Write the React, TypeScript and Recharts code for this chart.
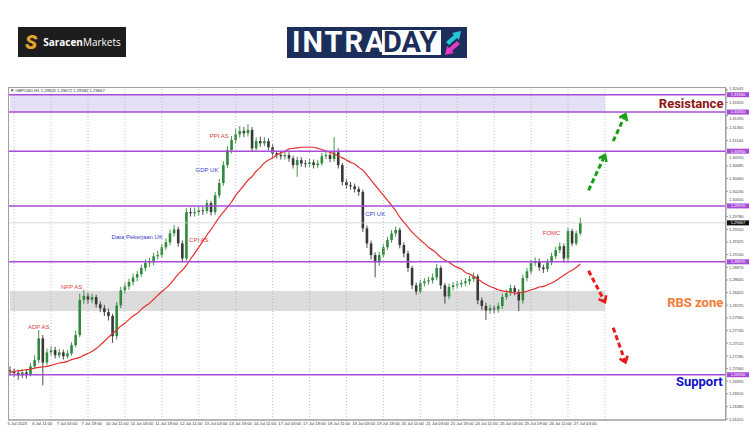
import React from 'react';
import { ComposedChart, Bar, Line, Area, XAxis, YAxis, ReferenceLine, ReferenceDot } from 'recharts';

// ---- GBPUSD candles (aggregated H1), open = previous close ----
const firstOpen = 1.2703;
const closes = [
  1.2701, 1.2698, 1.2694, 1.2699, 1.2696, 1.2710, 1.2721, 1.2760, 1.2717, 1.2735,
  1.2739, 1.2730, 1.2735, 1.2728, 1.2733, 1.2748, 1.2766, 1.2829, 1.2836, 1.2829,
  1.2834, 1.2821, 1.2814, 1.2807, 1.2800, 1.2764, 1.2819, 1.2846, 1.2853, 1.2861,
  1.2869, 1.2875, 1.2886, 1.2895, 1.2896, 1.2907, 1.2909, 1.2923, 1.2932, 1.2948,
  1.2955, 1.2930, 1.2903, 1.2986, 1.2984, 1.2986, 1.2989, 1.2988, 1.3002, 1.2986,
  1.3016, 1.3038, 1.3070, 1.3097, 1.3115, 1.3125, 1.3131, 1.3127, 1.3133, 1.3100,
  1.3113, 1.3109, 1.3113, 1.3102, 1.3091, 1.3088, 1.3086, 1.3088, 1.3082, 1.3070,
  1.3079, 1.3073, 1.3072, 1.3075, 1.3070, 1.3073, 1.3086, 1.3088, 1.3081, 1.3093,
  1.3070, 1.3040, 1.3034, 1.3032, 1.3027, 1.3022, 1.2957, 1.2930, 1.2909, 1.2896,
  1.2909, 1.2923, 1.2936, 1.2948, 1.2954, 1.2927, 1.2912, 1.2886, 1.2855, 1.2844,
  1.2859, 1.2862, 1.2864, 1.2869, 1.2886, 1.2855, 1.2835, 1.2852, 1.2855, 1.2857,
  1.2859, 1.2862, 1.2866, 1.2871, 1.2828, 1.2818, 1.2810, 1.2814, 1.2812, 1.2818,
  1.2834, 1.2841, 1.2850, 1.2843, 1.2828, 1.2868, 1.2880, 1.2895, 1.2898, 1.2887,
  1.2884, 1.2896, 1.2907, 1.2918, 1.2925, 1.2903, 1.2952, 1.2930, 1.2948, 1.2967,
];
const highs = [
  1.2710, 1.2706, 1.2704, 1.2705, 1.2704, 1.2716, 1.2730, 1.2775, 1.2766, 1.2742,
  1.2746, 1.2745, 1.2741, 1.2740, 1.2739, 1.2753, 1.2774, 1.2840, 1.2847, 1.2842,
  1.2840, 1.2838, 1.2826, 1.2820, 1.2813, 1.2804, 1.2825, 1.2852, 1.2860, 1.2867,
  1.2876, 1.2881, 1.2892, 1.2901, 1.2904, 1.2913, 1.2917, 1.2929, 1.2939, 1.2955,
  1.2963, 1.2960, 1.2935, 1.2993, 1.2994, 1.2994, 1.2996, 1.2995, 1.3008, 1.3006,
  1.3022, 1.3045, 1.3077, 1.3104, 1.3122, 1.3135, 1.3140, 1.3138, 1.3143, 1.3138,
  1.3120, 1.3121, 1.3120, 1.3118, 1.3107, 1.3096, 1.3094, 1.3095, 1.3093, 1.3087,
  1.3085, 1.3084, 1.3079, 1.3081, 1.3080, 1.3079, 1.3092, 1.3095, 1.3093, 1.3120,
  1.3100, 1.3074, 1.3046, 1.3040, 1.3037, 1.3032, 1.3026, 1.2962, 1.2935, 1.2914,
  1.2915, 1.2929, 1.2942, 1.2954, 1.2960, 1.2958, 1.2932, 1.2917, 1.2890, 1.2860,
  1.2865, 1.2868, 1.2870, 1.2876, 1.2893, 1.2890, 1.2859, 1.2858, 1.2861, 1.2863,
  1.2865, 1.2868, 1.2872, 1.2878, 1.2875, 1.2833, 1.2824, 1.2820, 1.2819, 1.2824,
  1.2840, 1.2847, 1.2856, 1.2855, 1.2848, 1.2874, 1.2886, 1.2901, 1.2905, 1.2903,
  1.2892, 1.2902, 1.2913, 1.2924, 1.2932, 1.2930, 1.2958, 1.2956, 1.2953, 1.2976,
];
const lows = [
  1.2694, 1.2691, 1.2686, 1.2689, 1.2688, 1.2692, 1.2705, 1.2716, 1.2676, 1.2712,
  1.2729, 1.2724, 1.2725, 1.2722, 1.2724, 1.2729, 1.2744, 1.2762, 1.2822, 1.2822,
  1.2823, 1.2815, 1.2807, 1.2800, 1.2792, 1.2752, 1.2758, 1.2814, 1.2840, 1.2847,
  1.2855, 1.2862, 1.2870, 1.2880, 1.2888, 1.2891, 1.2901, 1.2904, 1.2918, 1.2927,
  1.2942, 1.2924, 1.2896, 1.2899, 1.2978, 1.2978, 1.2980, 1.2981, 1.2983, 1.2980,
  1.2981, 1.3011, 1.3033, 1.3065, 1.3091, 1.3109, 1.3119, 1.3120, 1.3121, 1.3094,
  1.3096, 1.3103, 1.3104, 1.3097, 1.3085, 1.3082, 1.3080, 1.3080, 1.3076, 1.3064,
  1.3049, 1.3067, 1.3066, 1.3067, 1.3064, 1.3065, 1.3069, 1.3081, 1.3075, 1.3076,
  1.3064, 1.3034, 1.3028, 1.3026, 1.3021, 1.3015, 1.2950, 1.2922, 1.2901, 1.2869,
  1.2890, 1.2904, 1.2918, 1.2931, 1.2942, 1.2921, 1.2905, 1.2879, 1.2848, 1.2838,
  1.2840, 1.2853, 1.2856, 1.2858, 1.2864, 1.2848, 1.2822, 1.2830, 1.2846, 1.2849,
  1.2851, 1.2853, 1.2856, 1.2861, 1.2821, 1.2811, 1.2793, 1.2804, 1.2805, 1.2806,
  1.2813, 1.2829, 1.2836, 1.2837, 1.2809, 1.2822, 1.2862, 1.2875, 1.2889, 1.2881,
  1.2877, 1.2879, 1.2891, 1.2902, 1.2913, 1.2896, 1.2898, 1.2925, 1.2926, 1.2944,
];
const movingAvg = [
  1.2699, 1.2701, 1.2702, 1.2703, 1.2704, 1.2705, 1.2707, 1.2708, 1.2709, 1.2710,
  1.2712, 1.2714, 1.2716, 1.2717, 1.2719, 1.2722, 1.2724, 1.2726, 1.2730, 1.2733,
  1.2737, 1.2742, 1.2748, 1.2755, 1.2762, 1.2769, 1.2775, 1.2782, 1.2787, 1.2794,
  1.2800, 1.2805, 1.2812, 1.2818, 1.2823, 1.2830, 1.2837, 1.2844, 1.2850, 1.2857,
  1.2866, 1.2875, 1.2882, 1.2891, 1.2902, 1.2912, 1.2923, 1.2934, 1.2945, 1.2955,
  1.2966, 1.2977, 1.2986, 1.2995, 1.3004, 1.3016, 1.3025, 1.3034, 1.3043, 1.3050,
  1.3059, 1.3066, 1.3074, 1.3079, 1.3083, 1.3088, 1.3092, 1.3095, 1.3099, 1.3100,
  1.3101, 1.3102, 1.3102, 1.3102, 1.3102, 1.3100, 1.3098, 1.3095, 1.3093, 1.3090,
  1.3086, 1.3083, 1.3079, 1.3075, 1.3072, 1.3066, 1.3061, 1.3052, 1.3043, 1.3034,
  1.3025, 1.3016, 1.3007, 1.2998, 1.2988, 1.2977, 1.2968, 1.2959, 1.2950, 1.2943,
  1.2936, 1.2930, 1.2923, 1.2918, 1.2912, 1.2905, 1.2900, 1.2896, 1.2891, 1.2887,
  1.2884, 1.2878, 1.2875, 1.2871, 1.2866, 1.2861, 1.2857, 1.2853, 1.2850, 1.2847,
  1.2845, 1.2844, 1.2843, 1.2841, 1.2841, 1.2843, 1.2844, 1.2847, 1.2849, 1.2852,
  1.2853, 1.2856, 1.2859, 1.2863, 1.2868, 1.2873, 1.2878, 1.2882, 1.2887, 1.2893,
];
const emptySlots = 35; // chart shift to the right

// ---- axes ----
const timeLabels = [
  '5 Jul 2023', '6 Jul 11:00', '7 Jul 03:00', '7 Jul 19:00', '10 Jul 11:00', '11 Jul 03:00',
  '11 Jul 19:00', '12 Jul 11:00', '13 Jul 03:00', '13 Jul 19:00', '14 Jul 11:00', '17 Jul 03:00',
  '17 Jul 19:00', '18 Jul 11:00', '19 Jul 03:00', '19 Jul 19:00', '20 Jul 11:00', '21 Jul 03:00',
  '21 Jul 19:00', '24 Jul 11:00', '25 Jul 03:00', '25 Jul 19:00', '26 Jul 11:00', '27 Jul 03:00',
];
const barsPerLabel = 6;
const gridBars = [1, 10, 19, 28, 37, 46, 55, 64, 73, 82, 91, 100, 109, 118, 127, 136, 145];
const priceTicks = [
  1.26155, 1.2638, 1.2661, 1.26835, 1.2706, 1.27285, 1.27515, 1.2774, 1.27965, 1.28195,
  1.2842, 1.28645, 1.2887, 1.291, 1.29325, 1.2955, 1.2978, 1.30005, 1.3023, 1.3046,
  1.30685, 1.3091, 1.3114, 1.31365, 1.3159, 1.3182, 1.32045,
];
const priceDomain = [1.2614, 1.3208];
const lastPrice = 1.29667;

// ---- levels & zones ----
const levelPrices = [1.3196, 1.3165, 1.3095, 1.2997, 1.2897, 1.2695];
const resistanceZone = [1.3165, 1.3196];
const rbsZone = [1.2809, 1.2845];
const zoneEndBar = 145;

const RED = '#e23b3b';
const BLUE = '#3d3dc8';
const eventNotes = [
  { text: 'ADP AS', at: 7, price: 1.278, color: RED },
  { text: 'NFP AS', at: 15, price: 1.2853, color: RED },
  { text: 'Data Pekerjaan UK', at: 31, price: 1.2941, color: BLUE },
  { text: 'CPI AS', at: 46, price: 1.2937, color: RED },
  { text: 'GDP UK', at: 48, price: 1.3061, color: BLUE },
  { text: 'PPI AS', at: 51, price: 1.3122, color: RED },
  { text: 'CPI UK', at: 89, price: 1.2982, color: BLUE },
  { text: 'FOMC', at: 132, price: 1.2948, color: RED },
];
const zoneNotes = [
  { text: 'Resistance', at: 166, price: 1.318, color: '#8e1414' },
  { text: 'RBS zone', at: 167, price: 1.2825, color: '#f27b35' },
  { text: 'Support', at: 168, price: 1.2683, color: '#1212c8' },
];
const arrowPaths = [
  { from: [141, 1.3025], to: [145, 1.3088], color: '#17a017' },
  { from: [147, 1.3113], to: [150, 1.3161], color: '#17a017' },
  { from: [141, 1.2881], to: [145, 1.2825], color: '#e81c1c' },
  { from: [147, 1.2779], to: [150, 1.2717], color: '#e81c1c' },
];

const data = Array.from({ length: closes.length + emptySlots }, (_, i) => {
  const row: any = { idx: i };
  if (i <= zoneEndBar) {
    row.resZone = resistanceZone;
    row.rbs = rbsZone;
  }
  if (i < closes.length) {
    row.open = i === 0 ? firstOpen : closes[i - 1];
    row.close = closes[i];
    row.high = highs[i];
    row.low = lows[i];
    row.ma = movingAvg[i];
  }
  return row;
});

const tagPrices = [...levelPrices, lastPrice];
const PLOT_H = 332;

const Candle = (props: any) => {
  const { x, y, width, height, payload } = props;
  if (!payload || payload.high == null || typeof y !== 'number') return null;
  const { open, close, high, low } = payload;
  const top = Math.min(y, y + height);
  const h = Math.abs(height);
  const k = h / (high - low || 1e-9);
  const yOf = (v: number) => top + (high - v) * k;
  const cx = x + width / 2;
  const up = close >= open;
  const color = up ? '#2f8a3c' : '#383838';
  const bw = 2.6;
  const yo = yOf(open);
  const yc = yOf(close);
  const by = Math.min(yo, yc);
  const bh = Math.max(0.8, Math.abs(yo - yc));
  return (
    <g>
      <line x1={cx} x2={cx} y1={top} y2={top + h} stroke={color} strokeWidth={0.9} />
      <rect x={cx - bw / 2} y={by} width={bw} height={bh} fill={color} />
    </g>
  );
};

const TimeTick = (props: any) => {
  const { x, y, payload } = props;
  const label = timeLabels[Math.round(payload.value / barsPerLabel)];
  return (
    <text x={x - 2.5} y={y + 5} fontSize={4.2} fill="#333" textAnchor="start" fontFamily="Liberation Sans, Arial">
      {label}
    </text>
  );
};

const PriceTick = (props: any) => {
  const { x, y, payload } = props;
  const v = Number(payload.value);
  const pxPerUnit = PLOT_H / (priceDomain[1] - priceDomain[0]);
  let dy = 0;
  tagPrices.forEach((t) => {
    const d = (t - v) * pxPerUnit; // >0 : tag above the tick
    if (Math.abs(d) < 6) dy = d > 0 ? 6 - d : -(6 + d);
  });
  return (
    <text x={x} y={y + 1.5 + dy} fontSize={4} fill="#444" textAnchor="start" fontFamily="Liberation Sans, Arial">
      {v.toFixed(5)}
    </text>
  );
};

const axisTag = (value: number, bg: string) => (p: any) => {
  const vb = p.viewBox || {};
  const x = (vb.x || 0) + (vb.width || 0);
  const y = vb.y || 0;
  return (
    <g>
      <rect x={x + 1} y={y - 2.5} width={22} height={5} fill={bg} />
      <text x={x + 12} y={y + 1.4} fontSize={4} fill="#fff" textAnchor="middle" fontFamily="Liberation Sans, Arial">
        {value.toFixed(5)}
      </text>
    </g>
  );
};

const arrowShape = (color: string) => (p: any) => {
  const { x1, y1, x2, y2 } = p;
  if ([x1, y1, x2, y2].some((v) => typeof v !== 'number' || isNaN(v))) return null;
  const ang = Math.atan2(y2 - y1, x2 - x1);
  const L = 7;
  const a = 0.65;
  const hx1 = x2 - L * Math.cos(ang - a);
  const hy1 = y2 - L * Math.sin(ang - a);
  const hx2 = x2 - L * Math.cos(ang + a);
  const hy2 = y2 - L * Math.sin(ang + a);
  return (
    <g>
      <line x1={x1} y1={y1} x2={x2} y2={y2} stroke={color} strokeWidth={3} strokeDasharray="5 3" />
      <polyline points={`${hx1},${hy1} ${x2},${y2} ${hx2},${hy2}`} fill="none" stroke={color} strokeWidth={2.6} />
    </g>
  );
};

export default function App() {
  return (
    <div
      style={{
        position: 'absolute',
        left: 0,
        top: 0,
        width: 750,
        height: 430,
        background: '#fff',
        overflow: 'hidden',
        fontFamily: '"Liberation Sans", Arial, sans-serif',
      }}
    >
      <ComposedChart
        width={750}
        height={430}
        data={data}
        margin={{ top: 88, right: 0, bottom: 0, left: 8 }}
        barCategoryGap={0}
        barGap={0}
      >
        <XAxis
          dataKey="idx"
          type="category"
          ticks={timeLabels.map((_, k) => k * barsPerLabel)}
          interval={0}
          tick={<TimeTick />}
          tickLine={false}
          tickSize={0}
          tickMargin={0}
          axisLine={{ stroke: '#9a9a9a' }}
          height={10}
        />
        <YAxis
          orientation="right"
          type="number"
          domain={priceDomain}
          allowDataOverflow
          ticks={priceTicks}
          interval={0}
          tick={<PriceTick />}
          tickLine={{ stroke: '#9a9a9a' }}
          tickSize={2}
          tickMargin={1}
          axisLine={{ stroke: '#9a9a9a' }}
          width={24}
        />
        <Area
          dataKey="resZone"
          type="linear"
          stroke="none"
          fill="#e4e1f7"
          fillOpacity={1}
          dot={false}
          activeDot={false}
          isAnimationActive={false}
        />
        <Area
          dataKey="rbs"
          type="linear"
          stroke="none"
          fill="#dcdcdc"
          fillOpacity={1}
          dot={false}
          activeDot={false}
          isAnimationActive={false}
        />
        {gridBars.map((g) => (
          <ReferenceLine key={'g' + g} x={g} stroke="#b0b0b0" strokeWidth={0.8} strokeDasharray="1 2" />
        ))}
        <ReferenceLine y={lastPrice} stroke="#cfcfcf" strokeWidth={0.8} label={axisTag(lastPrice, '#111')} />
        <Bar
          dataKey={(d: any) => (d.high != null ? [d.low, d.high] : null)}
          shape={(p: any) => <Candle {...p} />}
          isAnimationActive={false}
        />
        <Line
          dataKey="ma"
          type="monotone"
          stroke="#e3312f"
          strokeWidth={1.2}
          dot={false}
          activeDot={false}
          isAnimationActive={false}
        />
        {levelPrices.map((lv) => (
          <ReferenceLine key={'l' + lv} y={lv} stroke="#a74bd8" strokeWidth={1.5} label={axisTag(lv, '#a74bd8')} />
        ))}
        {arrowPaths.map((a, i) => (
          <ReferenceLine
            key={'a' + i}
            segment={[{ x: a.from[0], y: a.from[1] }, { x: a.to[0], y: a.to[1] }]}
            stroke={a.color}
            shape={arrowShape(a.color)}
          />
        ))}
        {eventNotes.map((n) => (
          <ReferenceDot
            key={n.text}
            x={n.at}
            y={n.price}
            r={0}
            fill="none"
            stroke="none"
            label={{ value: n.text, position: 'center', fill: n.color, fontSize: 6, fontFamily: 'Liberation Sans, Arial' }}
          />
        ))}
        {zoneNotes.map((n) => (
          <ReferenceDot
            key={n.text}
            x={n.at}
            y={n.price}
            r={0}
            fill="none"
            stroke="none"
            label={{
              value: n.text,
              position: 'center',
              fill: n.color,
              fontSize: 13,
              fontWeight: 700,
              fontFamily: 'Roboto, sans-serif',
            }}
          />
        ))}
      </ComposedChart>

      <svg width={750} height={430} style={{ position: 'absolute', left: 0, top: 0, pointerEvents: 'none' }}>
        <rect x={8.5} y={87.5} width={717} height={332.5} fill="none" stroke="#a0a0a0" strokeWidth={1} />
        <text x={10} y={92} fontSize={4.2} fill="#333" fontFamily="Liberation Sans, Arial">
          ▼ GBPUSD,H1 1.29605 1.29672 1.29582 1.29667
        </text>
      </svg>

      {/* Saracen Markets logo */}
      <div
        style={{
          position: 'absolute',
          left: 18,
          top: 27,
          width: 108,
          height: 30,
          background: '#1d1d1d',
          display: 'flex',
          alignItems: 'center',
        }}
      >
        <span
          style={{
            marginLeft: 7,
            color: '#e3a52b',
            fontFamily: 'Roboto, sans-serif',
            fontWeight: 900,
            fontSize: 20,
            fontStyle: 'italic',
            lineHeight: '30px',
          }}
        >
          S
        </span>
        <span style={{ marginLeft: 6, color: '#fff', fontFamily: '"Open Sans", sans-serif', fontSize: 10 }}>
          <b>Saracen</b>Markets
        </span>
      </div>

      {/* INTRADAY logo */}
      <div style={{ position: 'absolute', left: 287, top: 27, width: 180, height: 31, background: '#1c2f5b' }}>
        <span
          style={{
            position: 'absolute',
            left: 5,
            top: 0,
            color: '#fff',
            fontFamily: 'Roboto, sans-serif',
            fontWeight: 700,
            fontSize: 29,
            letterSpacing: 2,
            lineHeight: '31px',
          }}
        >
          INTRA
        </span>
        <div style={{ position: 'absolute', left: 95, top: 3, width: 59, height: 25, background: '#fff' }} />
        <span
          style={{
            position: 'absolute',
            left: 96,
            top: 0,
            color: '#1c2f5b',
            fontFamily: 'Roboto, sans-serif',
            fontWeight: 700,
            fontSize: 29,
            lineHeight: '31px',
          }}
        >
          DAY
        </span>
        <svg width={20} height={28} style={{ position: 'absolute', left: 156, top: 2 }} viewBox="0 0 20 28">
          <path d="M3 13 L11 6 L9 4 L18 2 L16 11 L14 9 L6 16 Z" fill="#27c6d6" />
          <path d="M17 15 L9 22 L11 24 L2 26 L4 17 L6 19 L14 12 Z" fill="#e23cc4" />
        </svg>
      </div>
    </div>
  );
}
